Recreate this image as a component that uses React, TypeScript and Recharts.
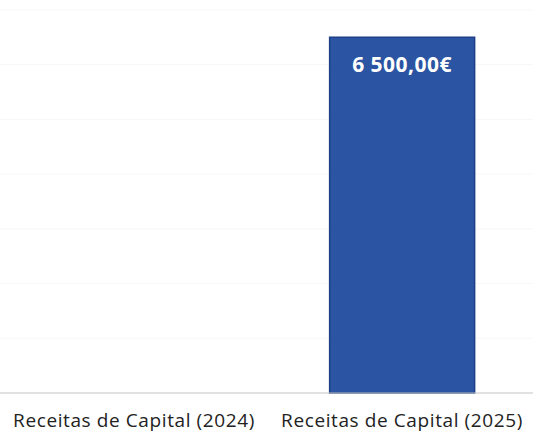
import { BarChart, Bar, XAxis, YAxis, CartesianGrid, LabelList } from "recharts";

const categories = ["Receitas de Capital (2024)", "Receitas de Capital (2025)"];
const values = [0, 6500];
const yTicks = [0, 1000, 2000, 3000, 4000, 5000, 6000, 7000];

const data = categories.map((name, i) => ({ name, value: values[i] }));

// 6500 -> "6 500,00€"
const formatEuro = (v: number) => {
  const [int, dec] = v.toFixed(2).split(".");
  return int.replace(/\B(?=(\d{3})+(?!\d))/g, " ") + "," + dec + "€";
};

export default function App() {
  return (
    <div style={{ position: "absolute", left: 0, top: 0, background: "#fff" }}>
      <BarChart width={533} height={437} data={data} margin={{ top: 10, right: -3, left: 0, bottom: 0 }} barCategoryGap="23%">
        <CartesianGrid stroke="#f7f7f7" vertical={false} />
        <YAxis hide domain={[0, 7000]} ticks={yTicks} />
        <XAxis
          dataKey="name"
          height={44}
          tickLine={false}
          axisLine={{ stroke: "#c8c8c8" }}
          tick={{ fill: "#222", fontSize: 19, letterSpacing: 0.6, fontFamily: "Open Sans, sans-serif" }}
          dy={13}
          interval={0}
        />
        <Bar dataKey="value" fill="#2b55a2" stroke="#1d3f85" strokeWidth={1.5} isAnimationActive={false}>
          <LabelList
            dataKey="value"
            position="insideTop"
            offset={20}
            formatter={(v: number) => (v ? formatEuro(v) : "")}
            style={{ fill: "#fff", fontSize: 21, fontWeight: 700, letterSpacing: 0.5, fontFamily: "Open Sans, sans-serif" }}
          />
        </Bar>
      </BarChart>
    </div>
  );
}
